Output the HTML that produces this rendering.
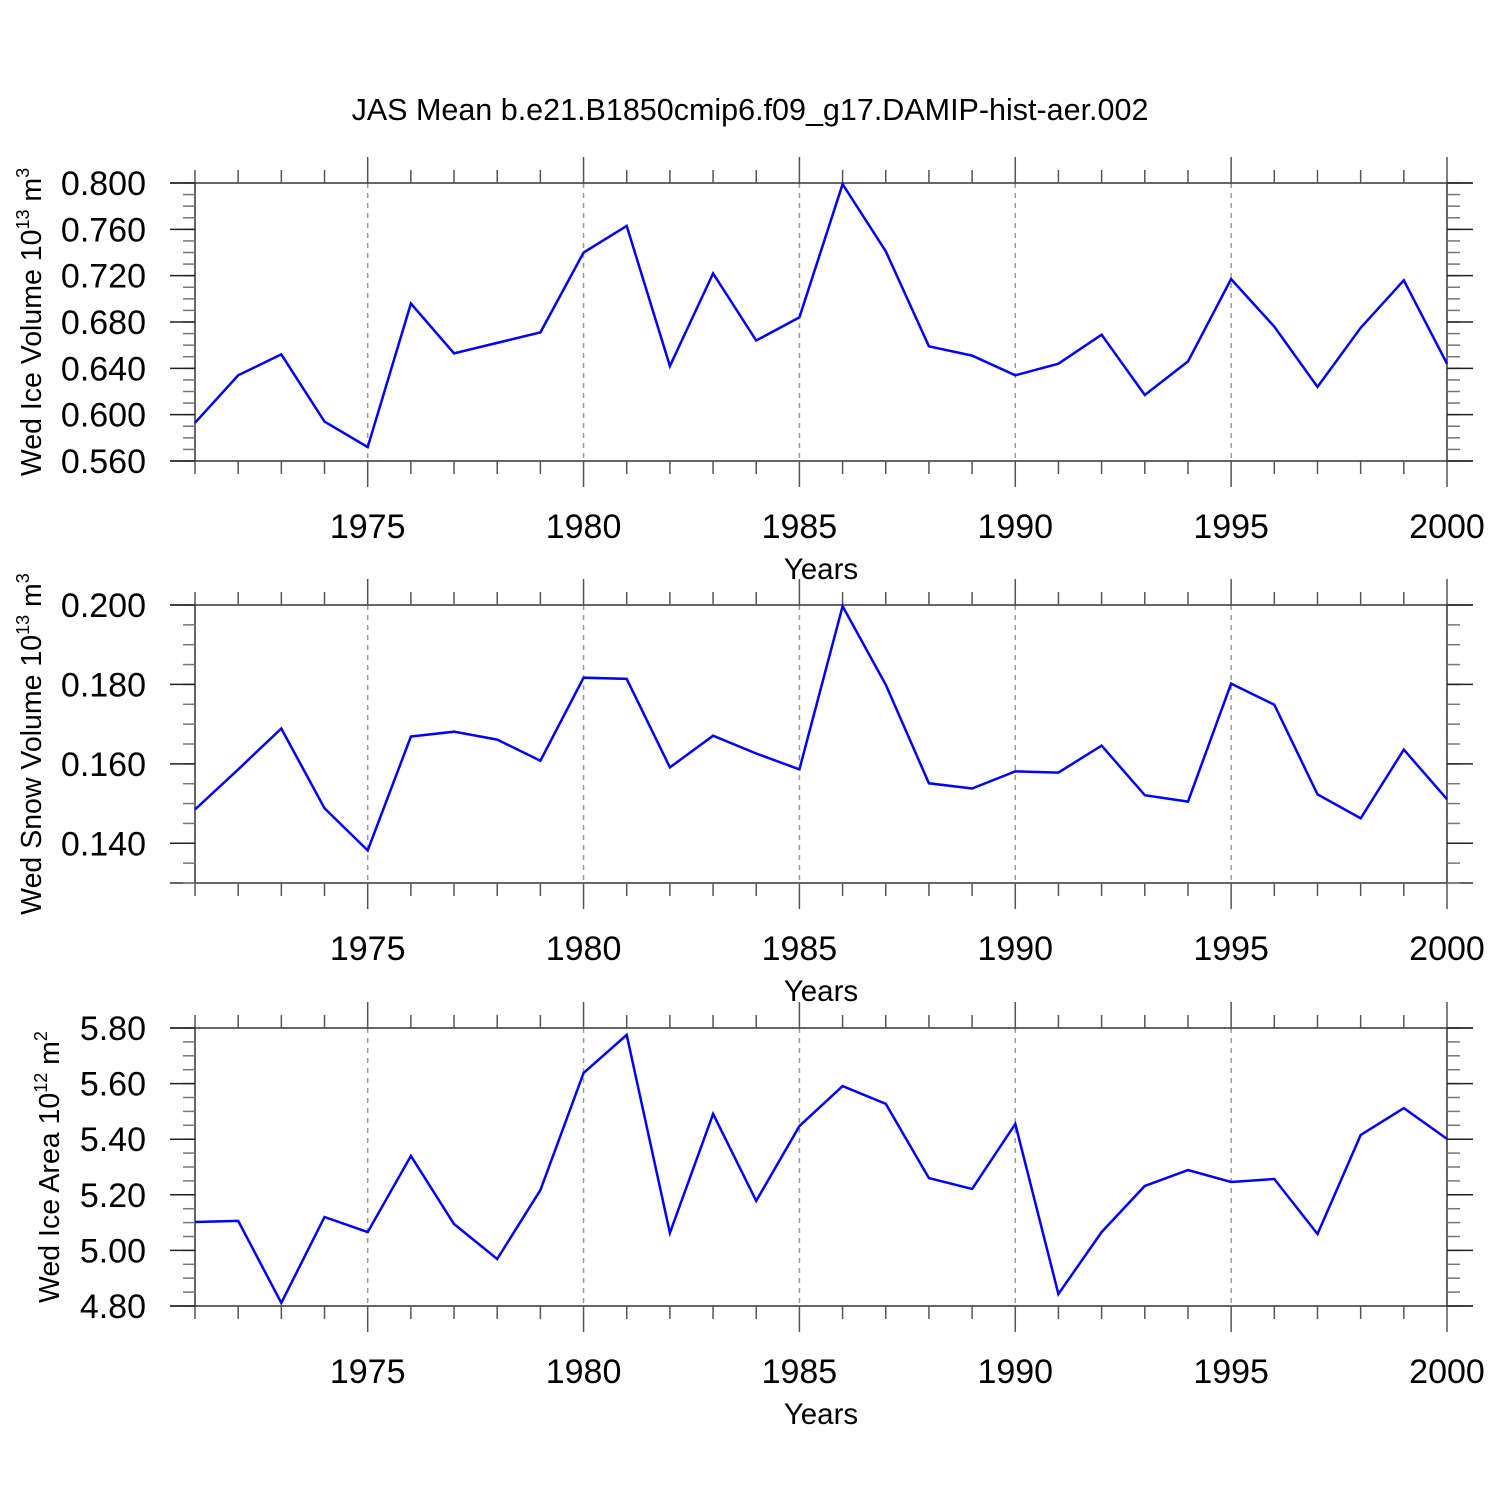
<!DOCTYPE html>
<html><head><meta charset="utf-8"><style>
html,body{margin:0;padding:0;background:#fff;}
svg{display:block;font-family:"Liberation Sans",sans-serif;}
</style></head><body>
<svg id="chart" width="1500" height="1500" viewBox="0 0 1500 1500" xmlns="http://www.w3.org/2000/svg">
<rect width="1500" height="1500" fill="#fff"/>
<text x="750" y="120" font-size="30.5" text-anchor="middle">JAS Mean b.e21.B1850cmip6.f09_g17.DAMIP-hist-aer.002</text>
</svg>
<script>
const years = [1971,1972,1973,1974,1975,1976,1977,1978,1979,1980,1981,1982,1983,1984,1985,1986,1987,1988,1989,1990,1991,1992,1993,1994,1995,1996,1997,1998,1999,2000];
const iceVolume = [0.593,0.634,0.652,0.594,0.572,0.696,0.653,0.662,0.671,0.740,0.763,0.642,0.722,0.664,0.684,0.799,0.741,0.659,0.651,0.634,0.644,0.669,0.617,0.646,0.717,0.676,0.624,0.675,0.716,0.644];
const snowVolume = [0.1485,0.1586,0.1689,0.1488,0.1382,0.1669,0.1681,0.1661,0.1608,0.1817,0.1814,0.1591,0.1671,0.1626,0.1586,0.1997,0.1799,0.1551,0.1538,0.1581,0.1578,0.1646,0.1521,0.1505,0.1802,0.1749,0.1523,0.1463,0.1636,0.1511];
const iceArea = [5.102,5.106,4.811,5.120,5.066,5.340,5.095,4.969,5.217,5.638,5.775,5.063,5.491,5.178,5.447,5.591,5.527,5.260,5.221,5.455,4.843,5.066,5.232,5.289,5.246,5.257,5.059,5.415,5.512,5.401];
const xTickLabels = [1975,1980,1985,1990,1995,2000];
const volTicks = ["0.800","0.760","0.720","0.680","0.640","0.600","0.560"];
const snowTicks = ["0.200","0.180","0.160","0.140"];
const areaTicks = ["5.80","5.60","5.40","5.20","5.00","4.80"];

const NS = "http://www.w3.org/2000/svg";
const svg = document.getElementById('chart');
function mk(tag, attrs, parent){ const e=document.createElementNS(NS,tag); for(const k in attrs) e.setAttribute(k,attrs[k]); (parent||svg).appendChild(e); return e; }

const X0=195, X1=1447, xMin=1971, xMax=2000;
const xs = v => X0 + (v-xMin)/(xMax-xMin)*(X1-X0);

const panels = [
 {name:'ice-volume', top:183, bot:461, ymin:0.56, ymax:0.80, minor:0.01, ticks:volTicks, data:iceVolume, title:'Wed Ice Volume 10', sup:'13', unit:' m', usup:'3', tx:41},
 {name:'snow-volume', top:605, bot:883, ymin:0.13, ymax:0.20, minor:0.005, ticks:snowTicks, data:snowVolume, title:'Wed Snow Volume 10', sup:'13', unit:' m', usup:'3', tx:41},
 {name:'ice-area', top:1028, bot:1306, ymin:4.80, ymax:5.80, minor:0.05, ticks:areaTicks, data:iceArea, title:'Wed Ice Area 10', sup:'12', unit:' m', usup:'2', tx:59}
];

panels.forEach(p=>{
  const g = mk('g',{});
  
  
  const ys = v => p.bot - (v-p.ymin)/(p.ymax-p.ymin)*(p.bot-p.top);
  xTickLabels.forEach(y=>{
    if(y<2000){
      const l=mk('line',{x1:xs(y),x2:xs(y),y1:p.top,y2:p.bot,stroke:'#999','stroke-width':1.5,'stroke-dasharray':'5,5'},g);
      
      
    }
  });
  const c='#333';
  mk('line',{x1:170,x2:1473,y1:p.top,y2:p.top,stroke:c,'stroke-width':1.5},g);
  mk('line',{x1:170,x2:1473,y1:p.bot,y2:p.bot,stroke:c,'stroke-width':1.5},g);
  mk('line',{x1:X0,x2:X0,y1:p.top,y2:p.bot,stroke:c,'stroke-width':1.5},g);
  mk('line',{x1:X1,x2:X1,y1:p.top,y2:p.bot,stroke:c,'stroke-width':1.5},g);
  years.forEach(y=>{
    const x=xs(y), major=(y%5===0);
    const len = major?26:13;
    mk('line',{x1:x,x2:x,y1:p.top-len,y2:p.top,stroke:'#555','stroke-width':1.5},g);
    mk('line',{x1:x,x2:x,y1:p.bot,y2:p.bot+len,stroke:'#555','stroke-width':1.5},g);
  });
  xTickLabels.forEach(y=>{
    const t=mk('text',{x:xs(y),y:p.bot+77,'font-size':34,'text-anchor':'middle'},g);
    t.textContent=y;
    
    
  });
  const xt=mk('text',{x:821,y:p.bot+118,'font-size':29.5,'text-anchor':'middle'},g);
  xt.textContent='Years';
  
  
  const n=Math.round((p.ymax-p.ymin)/p.minor);
  for(let i=0;i<=n;i++){
    const yy=ys(p.ymin+i*p.minor);
    mk('line',{x1:183,x2:X0,y1:yy,y2:yy,stroke:'#777','stroke-width':1.5},g);
    mk('line',{x1:X1,x2:1460,y1:yy,y2:yy,stroke:'#777','stroke-width':1.5},g);
  }
  p.ticks.forEach(s=>{
    const yy=ys(parseFloat(s));
    mk('line',{x1:170,x2:X0,y1:yy,y2:yy,stroke:'#222','stroke-width':1.5},g);
    mk('line',{x1:X1,x2:1473,y1:yy,y2:yy,stroke:'#222','stroke-width':1.5},g);
    const t=mk('text',{x:146,y:yy+12,'font-size':34,'text-anchor':'end'},g);
    t.textContent=s;
    
    
  });
  const cy=(p.top+p.bot)/2;
  const yt=mk('text',{x:p.tx,y:cy,'font-size':28.5,'text-anchor':'middle',transform:'rotate(-90 '+p.tx+' '+cy+')'},g);
  
  
  const a=document.createElementNS(NS,'tspan'); a.textContent=p.title; yt.appendChild(a);
  const b=document.createElementNS(NS,'tspan'); b.setAttribute('dy','-12'); b.setAttribute('font-size','18'); b.textContent=p.sup; yt.appendChild(b);
  const c2=document.createElementNS(NS,'tspan'); c2.setAttribute('dy','12'); c2.textContent=p.unit; yt.appendChild(c2);
  const d=document.createElementNS(NS,'tspan'); d.setAttribute('dy','-12'); d.setAttribute('font-size','18'); d.textContent=p.usup; yt.appendChild(d);
  const pts=years.map((y,i)=>xs(y).toFixed(1)+','+ys(p.data[i]).toFixed(1)).join(' ');
  const line=mk('polyline',{points:pts,fill:'none',stroke:'#0000ff','stroke-width':2.5,'stroke-linejoin':'miter'},g);
  
  
});
</script>
</body></html>
